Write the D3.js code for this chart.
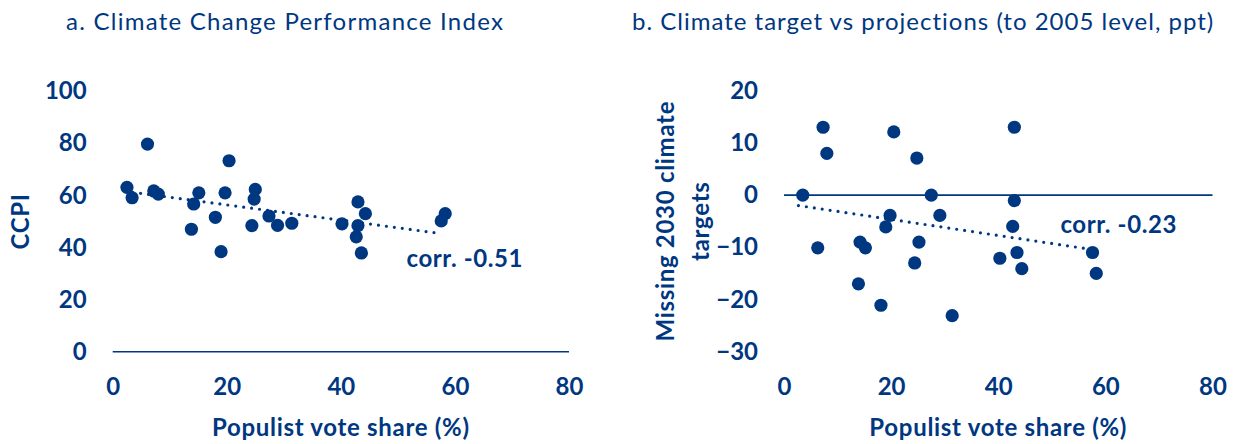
<!DOCTYPE html>
<html><head><meta charset="utf-8">
<script src="https://cdn.jsdelivr.net/npm/d3@7"></script>
<style>
body{margin:0;background:#fff;}
svg text{font-family:Lato,"Open Sans",sans-serif;fill:#003781;}
</style></head>
<body><svg id="c" width="1243" height="444"></svg>
<script>
// ---- data ----
const titles = ["a. Climate Change Performance Index", "b.  Climate target vs projections (to 2005 level, ppt)"];
const xTicks = [0, 20, 40, 60, 80];
const leftYTicks = [0, 20, 40, 60, 80, 100];
const rightYTicks = [-30, -20, -10, 0, 10, 20];
const xTitle = "Populist vote share (%)";
const leftYTitle = ["CCPI"];
const rightYTitle = ["Missing 2030 climate", "targets"];

const leftX = [2.5,3.4,6.1,7.2,8.0,13.8,14.2,15.1,18.0,19.0,19.7,20.4,24.4,24.8,25.0,27.4,28.9,31.4,40.2,43.0,44.3,43.0,42.7,43.6,58.3,57.6];
const leftY = [63.1,59.1,79.7,61.7,60.5,47.0,56.7,61.0,51.6,38.4,61.0,73.3,48.4,58.6,62.3,52.1,48.5,49.3,49.1,57.5,53.0,48.4,44.1,37.9,53.0,50.2];
const leftTrendX = [3.5, 57.4];
const leftTrendY = [61.2, 45.4];
const leftCorr = {x: 51.5, y: 36, text: "corr. -0.51"};

const rightX = [3.5,7.3,8.0,6.3,14.2,15.2,13.9,18.1,19.8,19.0,20.5,24.8,25.2,24.4,27.5,29.1,31.4,43.0,43.0,42.7,43.5,40.3,44.4,57.6,58.3];
const rightY = [0,13.0,8.0,-10.1,-9.0,-10.1,-17.0,-21.1,-3.9,-6.1,12.1,7.1,-9.0,-13.0,0,-3.9,-23.1,13.0,-1.05,-6.0,-11.0,-12.1,-14.1,-11.0,-15.0];
const rightTrendX = [2.7, 56.7];
const rightTrendY = [-2.0, -10.3];
const rightCorr = {x: 51.6, y: -5.7, text: "corr. -0.23"};

// ---- drawing ----
const C = "#003781";
const svg = d3.select("#c");
const FS = 24;

function panel(o){
  const g = svg.append("g");
  const x = d3.scaleLinear().domain([0,80]).range(o.xr);
  const y = d3.scaleLinear().domain(o.yd).range(o.yr);
  // title
  g.append("text").attr("x", o.titleX).attr("y", 30).attr("font-size", FS)
    .attr("letter-spacing", o.titleLS).text(o.title);
  // y axis (labels only)
  const ya = g.append("g").attr("transform", `translate(${o.xr[0]},0)`)
    .call(d3.axisLeft(y).tickValues(o.yTicks).tickSize(0).tickPadding(26).tickFormat(d3.format("d")));
  ya.select(".domain").remove();
  ya.selectAll("text").attr("font-size", FS).attr("font-weight", "bold").style("font-family","Lato,sans-serif").attr("fill", C);
  // x axis labels
  const xa = g.append("g").attr("transform", `translate(0,${o.yr[0]})`)
    .call(d3.axisBottom(x).tickValues(xTicks).tickSize(0).tickPadding(26));
  xa.select(".domain").remove();
  xa.selectAll("text").attr("font-size", FS).attr("font-weight", "bold").style("font-family","Lato,sans-serif").attr("fill", C);
  // horizontal line at 0
  g.append("line").attr("x1", x(0)).attr("x2", x(80)).attr("y1", y(0)).attr("y2", y(0))
    .attr("stroke", C).attr("stroke-width", 1.6);
  // x title
  g.append("text").attr("x", (o.xr[0]+o.xr[1])/2).attr("y", 436).attr("text-anchor","middle")
    .attr("font-size", FS).attr("font-weight","bold").attr("letter-spacing", 0.7).text(xTitle);
  // y title
  const yc = (o.yr[0]+o.yr[1])/2;
  o.yTitle.forEach((t,i)=>{
    g.append("text").attr("transform", `translate(${o.yTitleX + i*35},${yc}) rotate(-90)`)
      .attr("text-anchor","middle").attr("dy","0.36em").attr("font-size", FS).attr("font-weight","bold")
      .attr("letter-spacing", 0.7).text(t);
  });
  // trend
  const td = o.tx.map((v,i)=>[v,o.ty[i]]);
  g.append("path").attr("d", d3.line().x(d=>x(d[0])).y(d=>y(d[1]))(td))
    .attr("fill","none").attr("stroke", C).attr("stroke-width", 3.2)
    .attr("stroke-linecap","round").attr("stroke-dasharray","0 8");
  // points
  g.selectAll("circle.p").data(o.px.map((v,i)=>[v,o.py[i]])).join("circle")
    .attr("cx", d=>x(d[0])).attr("cy", d=>y(d[1])).attr("r", 6.6).attr("fill", C);
  // corr label
  g.append("text").attr("x", x(o.corr.x)).attr("y", y(o.corr.y)).attr("dy","0.36em")
    .attr("font-size", FS).attr("font-weight","bold").attr("letter-spacing", 0.6).text(o.corr.text);
}

panel({title: titles[0], titleX: 66, titleLS: 1.25, xr:[112.7, 569], yd:[0,100], yr:[351.7, 91.2],
  yTicks: leftYTicks, yTitle: leftYTitle, yTitleX: 20,
  px: leftX, py: leftY, tx: leftTrendX, ty: leftTrendY, corr: leftCorr});
panel({title: titles[1], titleX: 632, titleLS: 1.0, xr:[784, 1212.5], yd:[-30,20], yr:[351.7, 90.7],
  yTicks: rightYTicks, yTitle: rightYTitle, yTitleX: 665,
  px: rightX, py: rightY, tx: rightTrendX, ty: rightTrendY, corr: rightCorr});
</script></body></html>
